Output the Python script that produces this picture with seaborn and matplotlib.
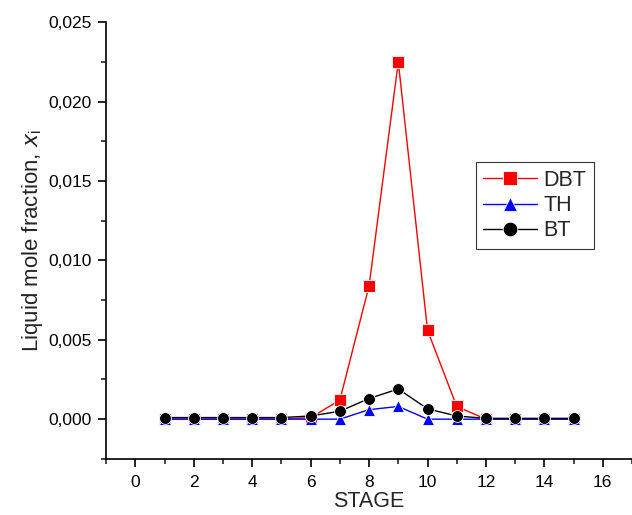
import matplotlib
matplotlib.use("Agg")
import matplotlib.pyplot as plt
import seaborn as sns
import pandas as pd
from matplotlib.ticker import MultipleLocator, FuncFormatter

stages = list(range(1, 16))
dbt = [0.0, 0.0, 0.0, 0.0, 0.0, 0.0001, 0.0012, 0.0084, 0.0225, 0.0056, 0.0008, 0.0, 0.0, 0.0, 0.0]
th = [0.0, 0.0, 0.0, 0.0, 0.0, 0.0, 0.0, 0.0006, 0.0008, 0.0, 0.0, 0.0, 0.0, 0.0, 0.0]
bt = [0.0001, 0.0001, 0.0001, 0.0001, 0.0001, 0.0002, 0.0005, 0.0013, 0.0019, 0.00065, 0.0002, 0.00005, 0.00005, 0.00005, 0.00005]
series_names = ["DBT", "TH", "BT"]

sns.set_style("ticks")
plt.rcParams['font.family'] = ['Liberation Sans', 'DejaVu Sans']

df = pd.DataFrame({
    "STAGE": stages * 3,
    "x": dbt + th + bt,
    "series": ["DBT"] * 15 + ["TH"] * 15 + ["BT"] * 15,
})

fig = plt.figure(figsize=(6.32, 5.15), dpi=100)
ax = fig.add_axes([0.168, 0.109, 0.832, 0.848])

colors = {"DBT": "#ff0000", "TH": "#0000ff", "BT": "#000000"}
markers = {"DBT": "s", "TH": "^", "BT": "o"}
for name in series_names:
    sub = df[df["series"] == name]
    sns.lineplot(data=sub, x="STAGE", y="x", ax=ax, color=colors[name],
                 marker=markers[name], markersize=8.5, markeredgecolor="white",
                 markeredgewidth=0.6, linewidth=1.0, label=name)

ax.set_xlim(-1, 17)
ax.set_ylim(-0.0025, 0.025)
ax.xaxis.set_major_locator(MultipleLocator(2))
ax.xaxis.set_minor_locator(MultipleLocator(1))
ax.yaxis.set_major_locator(MultipleLocator(0.005))
ax.yaxis.set_minor_locator(MultipleLocator(0.0025))
ax.yaxis.set_major_formatter(FuncFormatter(lambda v, p: f"{v:.3f}".replace(".", ",").replace("-0,000", "0,000")))
ax.tick_params(axis="both", which="major", direction="out", length=6, width=1.2, labelsize=12.5, colors="black")
ax.tick_params(axis="y", which="major", pad=4.5)
ax.tick_params(axis="x", which="major", pad=5.5)
ax.tick_params(axis="both", which="minor", direction="out", length=3.5, width=1.2)
for s in ["top", "right"]:
    ax.spines[s].set_visible(False)
for s in ["left", "bottom"]:
    ax.spines[s].set_linewidth(1.2)
    ax.spines[s].set_color("black")

ax.set_xlabel("STAGE", fontsize=15.5, labelpad=1)
ax.set_ylabel("Liquid mole fraction, $x_{\\mathregular{i}}$", fontsize=16, labelpad=2)

leg = ax.legend(loc="upper left", bbox_to_anchor=(0.703, 0.679), frameon=True,
                fancybox=False, edgecolor="black", fontsize=15.5, handlelength=2.5,
                borderpad=0.35, labelspacing=0.2, handletextpad=0.3, borderaxespad=0)
leg.get_frame().set_linewidth(0.8)
for h in leg.legend_handles:
    h.set_markersize(10.5)

fig.savefig("out.png", dpi=100)
